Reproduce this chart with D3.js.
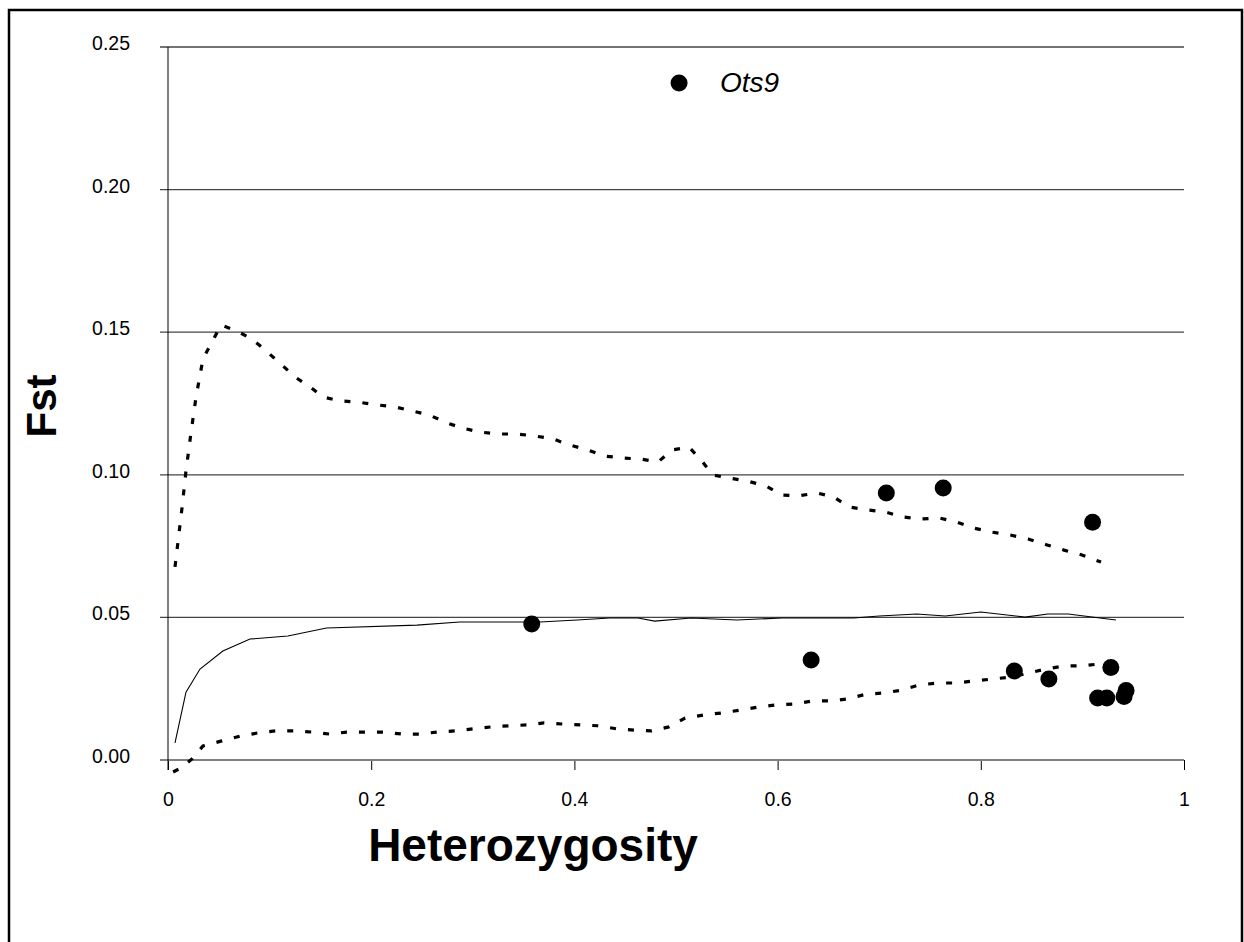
<!DOCTYPE html>
<html><head><meta charset="utf-8">
<script src="https://cdn.jsdelivr.net/npm/d3@7"></script>
<style>body{margin:0;background:#fff}svg{display:block}</style>
</head><body><svg id="c" width="1244" height="942"></svg>
<script>
// ---- data ----
const xTicks = [0, 0.2, 0.4, 0.6, 0.8, 1];
const xTickLabels = ["0", "0.2", "0.4", "0.6", "0.8", "1"];
const yTicks = [0, 0.05, 0.10, 0.15, 0.20, 0.25];
const yTickLabels = ["0.00", "0.05", "0.10", "0.15", "0.20", "0.25"];

const locusNames = ["Ots9", "", "", "", "", "", "", "", "", "", "", "", ""];
const locusH   = [0.503, 0.358, 0.633, 0.707, 0.763, 0.910, 0.833, 0.867, 0.928, 0.915, 0.924, 0.943, 0.941];
const locusFst = [0.2374, 0.0477, 0.0351, 0.0936, 0.0954, 0.0834, 0.0312, 0.0284, 0.0324, 0.0217, 0.0217, 0.0244, 0.0223];

const medianH   = [0.0069, 0.0177, 0.0315, 0.054, 0.0807, 0.118, 0.156, 0.245, 0.287, 0.366, 0.4026, 0.435, 0.4626, 0.479, 0.515, 0.560, 0.605, 0.675, 0.700, 0.737, 0.765, 0.800, 0.8435, 0.866, 0.886, 0.933];
const medianFst = [0.0060, 0.0238, 0.0319, 0.0382, 0.0424, 0.0435, 0.0463, 0.0473, 0.0484, 0.0484, 0.0491, 0.0498, 0.0498, 0.0487, 0.0498, 0.0491, 0.0498, 0.0498, 0.0505, 0.0512, 0.0505, 0.0519, 0.0501, 0.0512, 0.0512, 0.0491];

const upperH   = [0.0069, 0.0138, 0.0177, 0.0226, 0.0276, 0.0344, 0.0433, 0.0522, 0.0679, 0.0827, 0.0955, 0.1122, 0.125, 0.1398, 0.1526, 0.1693, 0.187, 0.2057, 0.2234, 0.2402, 0.2569, 0.2746, 0.2894, 0.3071, 0.3248, 0.3435, 0.3612, 0.3789, 0.3957, 0.4134, 0.4291, 0.4469, 0.4656, 0.4823, 0.4961, 0.5128, 0.5246, 0.5364, 0.5522, 0.5699, 0.5886, 0.6043, 0.6201, 0.6388, 0.6555, 0.6703, 0.688, 0.7057, 0.7234, 0.7411, 0.7589, 0.7766, 0.7933, 0.811, 0.8287, 0.8465, 0.8652, 0.8819, 0.8996, 0.9183];
const upperFst = [0.0677, 0.0884, 0.1013, 0.1147, 0.1273, 0.1406, 0.1466, 0.1525, 0.1504, 0.1476, 0.1438, 0.1385, 0.1343, 0.1308, 0.1273, 0.1259, 0.1255, 0.1245, 0.1238, 0.1224, 0.121, 0.1182, 0.1164, 0.115, 0.1143, 0.1143, 0.1136, 0.1126, 0.1104, 0.1087, 0.1066, 0.1059, 0.1055, 0.1045, 0.1087, 0.1097, 0.1052, 0.0999, 0.0989, 0.0978, 0.0961, 0.0929, 0.0926, 0.0936, 0.0922, 0.0887, 0.0877, 0.087, 0.0852, 0.0845, 0.0849, 0.0834, 0.0813, 0.0799, 0.0789, 0.0775, 0.0754, 0.0736, 0.0719, 0.0694];

const lowerH   = [0.005, 0.0128, 0.0236, 0.0344, 0.053, 0.071, 0.0886, 0.106, 0.124, 0.142, 0.159, 0.176, 0.195, 0.212, 0.230, 0.247, 0.265, 0.2825, 0.300, 0.318, 0.336, 0.353, 0.370, 0.389, 0.4065, 0.423, 0.442, 0.4587, 0.476, 0.493, 0.509, 0.5276, 0.545, 0.563, 0.582, 0.598, 0.616, 0.634, 0.6516, 0.669, 0.687, 0.705, 0.722, 0.739, 0.758, 0.7756, 0.793, 0.812, 0.830, 0.847, 0.864, 0.882, 0.900, 0.917];
const lowerFst = [-0.0042, -0.0028, 0.0004, 0.0049, 0.0067, 0.0084, 0.0095, 0.0102, 0.0102, 0.0098, 0.0091, 0.0098, 0.0098, 0.0098, 0.0091, 0.0091, 0.0098, 0.0102, 0.0109, 0.0116, 0.012, 0.0123, 0.013, 0.0126, 0.0123, 0.012, 0.0109, 0.0105, 0.0102, 0.0116, 0.0147, 0.0158, 0.0165, 0.0175, 0.0186, 0.0193, 0.0196, 0.0207, 0.0207, 0.0214, 0.0231, 0.0235, 0.0245, 0.0263, 0.027, 0.027, 0.0277, 0.0284, 0.0291, 0.0305, 0.0319, 0.033, 0.033, 0.0337];

const xTitle = "Heterozygosity";
const yTitle = "Fst";

// ---- drawing ----
const svg = d3.select("#c");
const L = 168, R = 1184, T = 47, B = 760;
const x = d3.scaleLinear().domain([0, 1]).range([L, R]);
const y = d3.scaleLinear().domain([0, 0.25]).range([B, T]);
const font = "Arial, 'Liberation Sans', sans-serif";

// outer border
svg.append("path").attr("d", `M9,942 V10 H1242 V942`).attr("fill", "none")
  .attr("stroke", "#000").attr("stroke-width", 2.5);

// gridlines (with left tick stubs)
svg.append("g").selectAll("line").data(yTicks.slice(1)).join("line")
  .attr("x1", L - 8).attr("x2", R).attr("y1", d => y(d)).attr("y2", d => y(d))
  .attr("stroke", "#444").attr("stroke-width", 1.3);

// y axis labels via axis
const yAxis = d3.axisLeft(y).tickValues(yTicks).tickFormat((d, i) => yTickLabels[i]).tickSize(0).tickPadding(38);
const gy = svg.append("g").attr("transform", `translate(${L},0)`).call(yAxis);
gy.select(".domain").remove();
gy.selectAll("text").attr("font-family", font).attr("font-size", 19.5).attr("fill", "#000").attr("dy", "0.28em");
gy.selectAll("text").attr("transform", "translate(0,-3)");

// x axis
const xAxis = d3.axisBottom(x).tickValues(xTicks).tickFormat((d, i) => xTickLabels[i]).tickSize(10).tickSizeOuter(0).tickPadding(22);
const gx = svg.append("g").attr("transform", `translate(0,${B})`).call(xAxis);
gx.select(".domain").remove();
gx.selectAll("line").attr("stroke", "#000").attr("stroke-width", 1);
gx.selectAll("text").attr("font-family", font).attr("font-size", 19.5).attr("fill", "#000");
svg.append("line").attr("x1", L - 8).attr("x2", R).attr("y1", B).attr("y2", B)
  .attr("stroke", "#808080").attr("stroke-width", 2);
// y axis line
svg.append("line").attr("x1", L).attr("x2", L).attr("y1", T).attr("y2", B + 10)
  .attr("stroke", "#000").attr("stroke-width", 1);

const line = d3.line().x(d => x(d[0])).y(d => y(d[1]));
svg.append("path").datum(medianH.map((h, i) => [h, medianFst[i]])).attr("d", line)
  .attr("fill", "none").attr("stroke", "#000").attr("stroke-width", 1.1);
svg.append("path").datum(upperH.map((h, i) => [h, upperFst[i]])).attr("d", line)
  .attr("fill", "none").attr("stroke", "#000").attr("stroke-width", 3.2).attr("stroke-dasharray", "6,12");
svg.append("path").datum(lowerH.map((h, i) => [h, lowerFst[i]])).attr("d", line)
  .attr("fill", "none").attr("stroke", "#000").attr("stroke-width", 3.2).attr("stroke-dasharray", "6,12");

// points
svg.append("g").selectAll("circle").data(locusH.map((h, i) => [h, locusFst[i]])).join("circle")
  .attr("cx", d => x(d[0])).attr("cy", d => y(d[1])).attr("r", 8.5).attr("fill", "#000");

// outlier label
locusNames.forEach((n, i) => {
  if (!n) return;
  svg.append("text").attr("x", x(locusH[i]) + 41).attr("y", y(locusFst[i]) + 9)
    .attr("font-family", font).attr("font-style", "italic").attr("font-size", 28).text(n);
});

// titles
svg.append("text").attr("x", 533).attr("y", 861).attr("text-anchor", "middle")
  .attr("font-family", font).attr("font-weight", "bold").attr("font-size", 46).text(xTitle);
svg.append("text").attr("transform", "translate(56,406) rotate(-90)").attr("text-anchor", "middle")
  .attr("font-family", font).attr("font-weight", "bold").attr("font-size", 42).text(yTitle);
</script></body></html>
